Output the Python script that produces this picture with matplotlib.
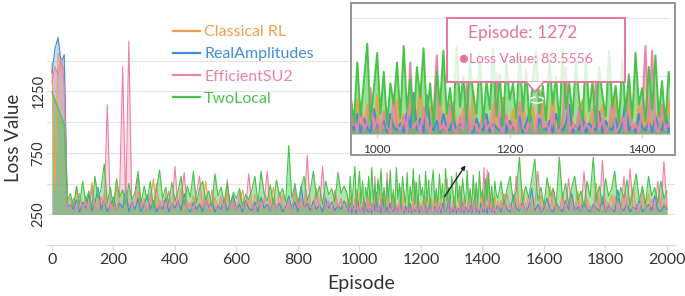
import matplotlib.pyplot as plt
import numpy as np
from matplotlib.patches import Rectangle, Polygon, Circle

plt.rcParams["font.family"] = ["Lato", "DejaVu Sans"]

# Episodes: every 10 steps, every 5 steps inside the zoomed window.
episodes = np.concatenate([np.arange(0, 960, 10),
                           np.arange(960, 1450, 5),
                           np.arange(1450, 2001, 10)])

classical_rl = [
    1480, 445, 1560, 1500, 1420, 330,
    380, 300, 450, 320, 280, 400, 330, 510, 290, 370,
    310, 420, 280, 350, 300, 480, 330, 290, 400, 310,
    360, 280, 440, 320, 380, 290, 350, 540, 300, 370,
    280, 410, 320, 290, 380, 330, 460, 280, 360, 310,
    400, 290, 350, 300, 520, 330, 280, 390, 310, 360,
    290, 420, 300, 370, 280, 340, 450, 300, 360, 290,
    410, 320, 280, 380, 300, 350, 470, 290, 330, 400,
    280, 360, 310, 430, 290, 350, 300, 390, 280, 340,
    460, 310, 290, 370, 330, 280, 410, 300, 350, 290,
    # 960 - 1445
    350, 290, 400, 310, 280, 380, 330, 290, 420, 300,
    280, 360, 310, 290, 400, 280, 340, 300, 380, 290,
    330, 460, 300, 280, 370, 310, 290, 410, 280, 350,
    300, 390, 290, 280, 360, 310, 290, 440, 300, 280,
    350, 320, 290, 380, 300, 280, 410, 310, 290, 360,
    280, 330, 400, 290, 300, 370, 280, 310, 390, 290,
    300, 430, 280, 340, 300, 290, 370, 310, 280, 350,
    400, 290, 300, 360, 280, 310, 380, 290, 300, 340,
    420, 280, 310, 290, 360, 300, 280, 390, 310, 290,
    350, 300, 280, 370, 310, 290, 400, 300,
    # 1450 - 2000
    360, 300, 420, 290, 340, 310, 380, 280, 450, 320,
    290, 370, 310, 280, 400, 330, 290, 480, 300, 350,
    280, 410, 310, 290, 360, 300, 440, 280, 330, 380,
    290, 310, 500, 300, 280, 370, 320, 410, 290, 340,
    300, 390, 280, 350, 470, 300, 290, 360, 310, 420,
    280, 330, 380, 300, 350, 290,
]

real_amplitudes = [
    1400, 1600, 1690, 1480, 1550, 310,
    330, 290, 370, 270, 350, 300, 410, 280, 340, 470,
    290, 360, 270, 320, 390, 280, 340, 300, 460, 270,
    350, 290, 380, 270, 330, 410, 290, 360, 270, 320,
    290, 380, 270, 340, 300, 360, 280, 420, 300, 270,
    350, 290, 330, 270, 390, 300, 350, 270, 320, 290,
    370, 280, 340, 400, 290, 330, 270, 360, 300, 280,
    350, 270, 390, 300, 330, 280, 370, 290, 340, 270,
    310, 400, 290, 350, 270, 480, 300, 340, 280, 360,
    290, 330, 270, 380, 300, 350, 280, 320, 290, 360,
    # 960 - 1445
    300, 270, 340, 260, 320, 280, 260, 360, 290, 270,
    310, 260, 340, 280, 270, 300, 260, 350, 280, 430,
    270, 320, 260, 420, 290, 270, 310, 260, 340, 280,
    270, 330, 260, 300, 280, 350, 270, 260, 320, 280,
    270, 340, 260, 300, 280, 270, 360, 260, 310, 280,
    270, 330, 260, 300, 350, 270, 260, 320, 280, 270,
    310, 260, 340, 280, 270, 300, 380, 260, 290, 270,
    330, 260, 300, 280, 270, 350, 260, 310, 280, 270,
    320, 260, 300, 400, 270, 290, 260, 340, 280, 270,
    310, 260, 330, 280, 270, 350, 260, 300,
    # 1450 - 2000
    320, 270, 360, 290, 270, 410, 300, 280, 350, 270,
    310, 460, 280, 330, 270, 300, 380, 290, 270, 340,
    300, 270, 360, 290, 420, 280, 310, 270, 350, 290,
    270, 330, 300, 280, 390, 270, 320, 290, 270, 450,
    300, 280, 340, 270, 310, 290, 370, 270, 300, 330,
    280, 400, 290, 270, 320, 290,
]

efficient_su2 = [
    1325, 1450, 1380, 1520, 1300, 290,
    300, 380, 270, 420, 290, 350, 270, 460, 310, 280,
    390, 300, 1140, 290, 360, 270, 410, 1450, 320, 1660,
    290, 380, 560, 300, 350, 270, 420, 300, 500, 280,
    370, 290, 440, 270, 640, 310, 380, 590, 290, 340,
    270, 420, 560, 300, 380, 270, 450, 310, 290, 400,
    280, 530, 300, 360, 270, 420, 310, 290, 580, 330,
    270, 400, 300, 350, 600, 290, 380, 270, 430, 310,
    290, 360, 270, 470, 300, 380, 280, 730, 320, 280,
    420, 300, 640, 290, 360, 270, 450, 310, 380, 290,
    # 960 - 1445
    280, 330, 260, 380, 270, 300, 450, 270, 320, 260,
    350, 280, 260, 420, 290, 270, 330, 260, 560, 280,
    310, 260, 370, 290, 260, 340, 590, 270, 300, 260,
    380, 280, 260, 330, 270, 470, 260, 310, 280, 260,
    360, 270, 300, 260, 520, 280, 260, 340, 270, 300,
    260, 390, 280, 260, 320, 270, 260, 440, 280, 300,
    260, 350, 270, 260, 310, 540, 260, 290, 270, 370,
    260, 300, 280, 260, 480, 270, 320, 260, 290, 400,
    260, 280, 330, 260, 510, 270, 300, 260, 350, 630,
    270, 610, 280, 260, 380, 270, 300, 260,
    # 1450 - 2000
    290, 360, 270, 420, 300, 270, 560, 290, 330, 270,
    400, 280, 310, 600, 270, 350, 290, 270, 460, 300,
    280, 380, 270, 540, 300, 280, 360, 270, 600, 290,
    320, 270, 430, 290, 690, 280, 340, 270, 400, 300,
    270, 560, 290, 620, 280, 330, 270, 450, 300, 280,
    370, 270, 520, 290, 680, 300,
]

two_local = [
    1245, 1180, 1110, 1050, 980, 360,
    420, 310, 480, 330, 520, 350, 440, 300, 560, 380,
    460, 660, 340, 470, 310, 540, 390, 450, 330, 500,
    370, 430, 600, 340, 480, 360, 520, 300, 450, 610,
    380, 470, 330, 510, 360, 440, 560, 320, 480, 390,
    600, 340, 460, 520, 370, 440, 310, 580, 400, 470,
    350, 500, 330, 430, 380, 460, 320, 410, 370, 450,
    560, 340, 600, 420, 360, 490, 330, 530, 400, 460,
    350, 810, 380, 500, 340, 470, 560, 360, 440, 600,
    390, 480, 330, 520, 410, 460, 350, 590, 420, 480,
    # 960 - 1445
    420, 300, 560, 330, 480, 640, 310, 450, 600, 340,
    520, 290, 470, 380, 560, 320, 630, 360, 490, 300,
    540, 410, 620, 330, 470, 290, 520, 380, 610, 340,
    450, 300, 630, 370, 500, 310, 560, 420, 340, 590,
    300, 480, 360, 620, 330, 510, 290, 570, 400, 470,
    320, 600, 350, 530, 300, 490, 610, 340, 460, 310,
    580, 380, 500, 290, 620, 360, 470, 330, 560, 400,
    310, 590, 350, 480, 300, 540, 420, 330, 610, 370,
    460, 300, 570, 350, 500, 320, 600, 380, 450, 310,
    540, 360, 590, 330, 480, 300, 520, 410,
    # 1450 - 2000
    380, 520, 330, 460, 560, 350, 440, 715, 340, 480,
    390, 530, 700, 360, 470, 320, 550, 400, 460, 340,
    715, 380, 500, 330, 470, 560, 360, 440, 310, 520,
    390, 715, 350, 480, 330, 540, 400, 460, 600, 340,
    470, 380, 530, 320, 450, 580, 360, 480, 330, 560,
    400, 470, 340, 520, 380, 440,
]

series_names = ["Classical RL", "RealAmplitudes", "EfficientSU2", "TwoLocal"]
series_values = [classical_rl, real_amplitudes, efficient_su2, two_local]
colors = ["#F0A04B", "#3F8EDB", "#EC82A8", "#47C447"]
fill_alpha = [0.3, 0.3, 0.3, 0.45]

x_ticks = np.arange(0, 2001, 200)
y_grid = [250, 500, 750, 1000, 1250, 1500]
y_labelled = [250, 750, 1250]
inset_ticks = [1000, 1200, 1400]
inset_grid = [500, 750]
tooltip_episode = 1272
tooltip_loss = 83.5556

W, H = 685, 296


def fx(x):
    return x / W


def fy(y):
    return 1 - y / H


fig = plt.figure(figsize=(W / 100, H / 100), dpi=100)

# Main axes
ax = fig.add_axes([fx(47), fy(245), fx(628), 215 / H])
for name, vals, c, a in zip(series_names, series_values, colors, fill_alpha):
    vals = np.array(vals)
    ax.fill_between(episodes, 250, vals, color=c, alpha=a, lw=0)
    ax.plot(episodes, vals, color=c, lw=0.8, label=name)

ax.set_xlim(-16, 2026)
ax.set_ylim(0, 1750)
ax.set_xticks(x_ticks)
ax.set_yticks(y_grid)
ax.set_yticklabels([str(v) if v in y_labelled else "" for v in y_grid])
ax.grid(axis="y", color="#E4E4E4", lw=0.8)
ax.set_axisbelow(True)
for s in ["top", "right", "left"]:
    ax.spines[s].set_visible(False)
ax.spines["bottom"].set_color("#D8D8EA")
ax.tick_params(axis="x", length=4.5, width=0.8, color="#D8D8EA", pad=1,
               labelsize=11.5, labelcolor="#333333")
ax.tick_params(axis="y", length=0, pad=1, labelsize=10.5, labelcolor="#333333",
               labelrotation=90)
for t in ax.get_yticklabels():
    t.set_va("center")
ax.set_xlabel("Episode", fontsize=14, color="#333333", labelpad=6)
ax.set_ylabel("Loss Value", fontsize=13.5, color="#333333", labelpad=7)

leg = ax.legend(loc="upper left", bbox_to_anchor=(fx(173), fy(25)),
                bbox_transform=fig.transFigure, frameon=False, fontsize=11.5,
                handlelength=1.7, handletextpad=0.25, labelspacing=0.5,
                borderpad=0, borderaxespad=0)
for t, c in zip(leg.get_texts(), colors):
    t.set_color(c)
for h in leg.get_lines():
    h.set_linewidth(1.6)

# Inset frame
fig.add_artist(Rectangle((fx(351), fy(155)), fx(324), 152 / H,
                         transform=fig.transFigure, facecolor="white",
                         edgecolor="#8C8C8C", lw=1.3, zorder=2))

axin = fig.add_axes([fx(352), fy(134), fx(318), 129 / H], zorder=3)
for name, vals, c in zip(series_names, series_values, colors):
    vals = np.array(vals)
    axin.fill_between(episodes, 250, vals, color=c, alpha=0.55, lw=0)
    axin.plot(episodes, vals, color=c, lw=1.4)
axin.set_xlim(962, 1442)
axin.set_ylim(254, 805)
axin.set_xticks(inset_ticks)
axin.set_yticks(inset_grid)
axin.set_yticklabels([])
axin.grid(axis="y", color="#E4E4E4", lw=0.8)
axin.set_axisbelow(True)
for s in ["top", "right", "left"]:
    axin.spines[s].set_visible(False)
axin.spines["bottom"].set_color("#CCCCCC")
axin.tick_params(axis="x", length=3, color="#CCCCCC", pad=4,
                 labelsize=8.5, labelcolor="#333333")
axin.tick_params(axis="y", length=0)

# Tooltip
pink = "#E8749E"
fig.add_artist(Rectangle((fx(447), fy(82)), fx(178), 64 / H,
                         transform=fig.transFigure, facecolor="white",
                         alpha=0.82, edgecolor="none", zorder=5))
fig.add_artist(Rectangle((fx(447), fy(82)), fx(178), 64 / H,
                         transform=fig.transFigure, facecolor="none",
                         edgecolor=pink, lw=1.4, zorder=6))
fig.add_artist(Polygon([(fx(526), fy(81.5)), (fx(535), fy(92)), (fx(544), fy(81.5))],
                       closed=False, transform=fig.transFigure,
                       facecolor="white", edgecolor=pink, lw=1.2, zorder=6))
fig.add_artist(Circle((fx(537), fy(100)), 7 / W, transform=fig.transFigure,
                      facecolor="none", edgecolor="#F2F2F2", lw=1.2,
                      ls="--", zorder=6))
fig.text(fx(523), fy(33), f"Episode: {tooltip_episode}", fontsize=12.5,
         color=pink, ha="center", va="center", zorder=7)
fig.text(fx(463), fy(59), "\u25CF", fontsize=12, color=pink,
         ha="center", va="center", zorder=7)
fig.text(fx(469), fy(59), f"Loss Value: {tooltip_loss}", fontsize=10,
         color=pink, ha="left", va="center", zorder=7)

# Arrow pointing to the inset
ax.annotate("", xy=(fx(467), fy(163)), xytext=(fx(443), fy(199)),
            xycoords="figure fraction", textcoords="figure fraction",
            arrowprops=dict(arrowstyle="-|>", color="#222222", lw=1.0,
                            mutation_scale=6))

fig.savefig("out.png", dpi=100)
